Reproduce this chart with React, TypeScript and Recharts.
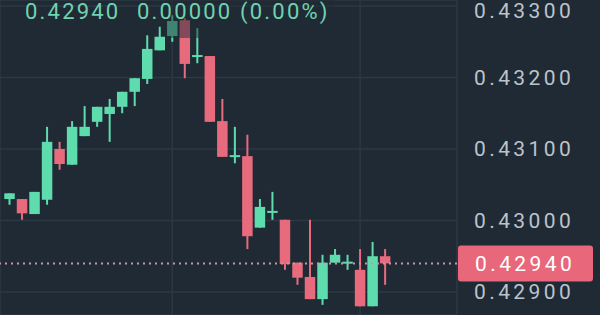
import { ComposedChart, Bar, XAxis, YAxis, CartesianGrid, ReferenceLine } from 'recharts';

// OHLC, one entry per candle
const opens = [0.43030, 0.43030, 0.43009, 0.43029, 0.43100, 0.43078, 0.43118, 0.43138, 0.43149, 0.43159, 0.43180, 0.43198, 0.43238, 0.43258, 0.43280, 0.43229, 0.43230, 0.43139, 0.43090, 0.43090, 0.42990, 0.43012, 0.43001, 0.42941, 0.42921, 0.42890, 0.42941, 0.42941, 0.42931, 0.42880, 0.42950];
const highs = [0.43038, 0.43030, 0.43040, 0.43131, 0.43110, 0.43139, 0.43160, 0.43159, 0.43170, 0.43180, 0.43199, 0.43259, 0.43271, 0.43287, 0.43283, 0.43269, 0.43230, 0.43170, 0.43131, 0.43120, 0.43030, 0.43040, 0.43001, 0.42941, 0.43001, 0.42952, 0.42960, 0.42952, 0.42960, 0.42970, 0.42960];
const lows = [0.43022, 0.43001, 0.43009, 0.43022, 0.43071, 0.43078, 0.43118, 0.43131, 0.43110, 0.43150, 0.43160, 0.43191, 0.43238, 0.43250, 0.43199, 0.43220, 0.43138, 0.43089, 0.43080, 0.42960, 0.42990, 0.43001, 0.42931, 0.42910, 0.42890, 0.42882, 0.42941, 0.42931, 0.42880, 0.42880, 0.42910];
const closes = [0.43038, 0.43010, 0.43040, 0.43110, 0.43079, 0.43131, 0.43131, 0.43159, 0.43159, 0.43180, 0.43199, 0.43240, 0.43257, 0.43279, 0.43219, 0.43230, 0.43138, 0.43089, 0.43090, 0.42978, 0.43019, 0.43012, 0.42939, 0.42920, 0.42890, 0.42941, 0.42952, 0.42941, 0.42880, 0.42950, 0.42940];

const priceTicks = [0.429, 0.430, 0.431, 0.432, 0.433];
const lastPrice = 0.42940;
const changeText = '0.00000 (0.00%)';

const BG = '#1f2a35';
const UP = '#5fdcae';
const DOWN = '#e86b7d';

const data = opens.map((o, i) => ({
  i,
  open: o,
  high: highs[i],
  low: lows[i],
  close: closes[i],
  range: [lows[i], highs[i]],
}));

const Candle = (props: any) => {
  const { x, y, width, height, payload } = props;
  const { open, high, low, close } = payload;
  const span = high - low || 1e-9;
  const py = (v: number) => y + ((high - v) / span) * height;
  const cx = x + width / 2;
  const color = close >= open ? UP : DOWN;
  const top = py(Math.max(open, close));
  const bot = py(Math.min(open, close));
  const bodyH = bot - top;
  return (
    <g>
      <rect x={cx - 1} y={y} width={2} height={height} fill={color} />
      {bodyH < 2 ? (
        <rect x={x} y={top - 1} width={width} height={2} fill={color} />
      ) : (
        <rect x={x} y={top} width={width} height={bodyH} fill={color} />
      )}
    </g>
  );
};

const PriceTick = (props: any) => {
  const { x, y, payload } = props;
  // top label gets pushed down so it isn't clipped by the edge
  const ty = Math.max(y, 10);
  return (
    <text x={x} y={ty} dy={7.5} fill="#bcc3c9" fontSize={21} fontFamily="Roboto" letterSpacing={3.4} textAnchor="start">
      {payload.value.toFixed(5)}
    </text>
  );
};

const PriceBadge = (props: any) => {
  const { viewBox } = props;
  const bx = viewBox.x + viewBox.width + 1;
  const by = viewBox.y;
  return (
    <g>
      <rect x={bx} y={by - 18} width={135} height={36} rx={3} fill="#e8677a" />
      <text x={bx + 17} y={by} dy={7.5} fill="#ffffff" fontSize={21} fontFamily="Roboto" letterSpacing={3.4}>
        {lastPrice.toFixed(5)}
      </text>
    </g>
  );
};

const headStyle = {
  position: 'absolute' as const,
  top: 1,
  fontFamily: 'Roboto',
  fontSize: 22,
  lineHeight: '22px',
  color: '#6fd3b0',
  letterSpacing: 2.2,
  whiteSpace: 'pre' as const,
};

export default function App() {
  return (
    <div style={{ position: 'absolute', left: 0, top: 0, width: 600, height: 315, background: BG, overflow: 'hidden' }}>
      <ComposedChart width={600} height={315} data={data} margin={{ top: 0, right: 0, bottom: 0, left: 0 }}>
        <CartesianGrid stroke="#2c3843" strokeWidth={1.5} />
        <XAxis dataKey="i" type="number" domain={[-0.76, 35.74]} ticks={[13, 28]} hide allowDataOverflow />
        <YAxis
          orientation="right"
          width={143}
          domain={[0.428678, 0.433084]}
          ticks={priceTicks}
          allowDataOverflow
          axisLine={false}
          tickLine={false}
          tickSize={0}
          tickMargin={17}
          tick={<PriceTick />}
        />
        <ReferenceLine y={lastPrice} stroke="#c995a6" strokeWidth={2} strokeDasharray="2 4" label={<PriceBadge />} />
        <Bar dataKey="range" barSize={10.5} shape={<Candle />} isAnimationActive={false} />
      </ComposedChart>
      <div style={{ position: 'absolute', left: 165, top: 0, width: 170, height: 38, background: 'rgba(31,42,53,0.5)' }} />
      <div style={{ ...headStyle, left: 25 }}>{lastPrice.toFixed(5)}</div>
      <div style={{ ...headStyle, left: 137 }}>{changeText}</div>
    </div>
  );
}
